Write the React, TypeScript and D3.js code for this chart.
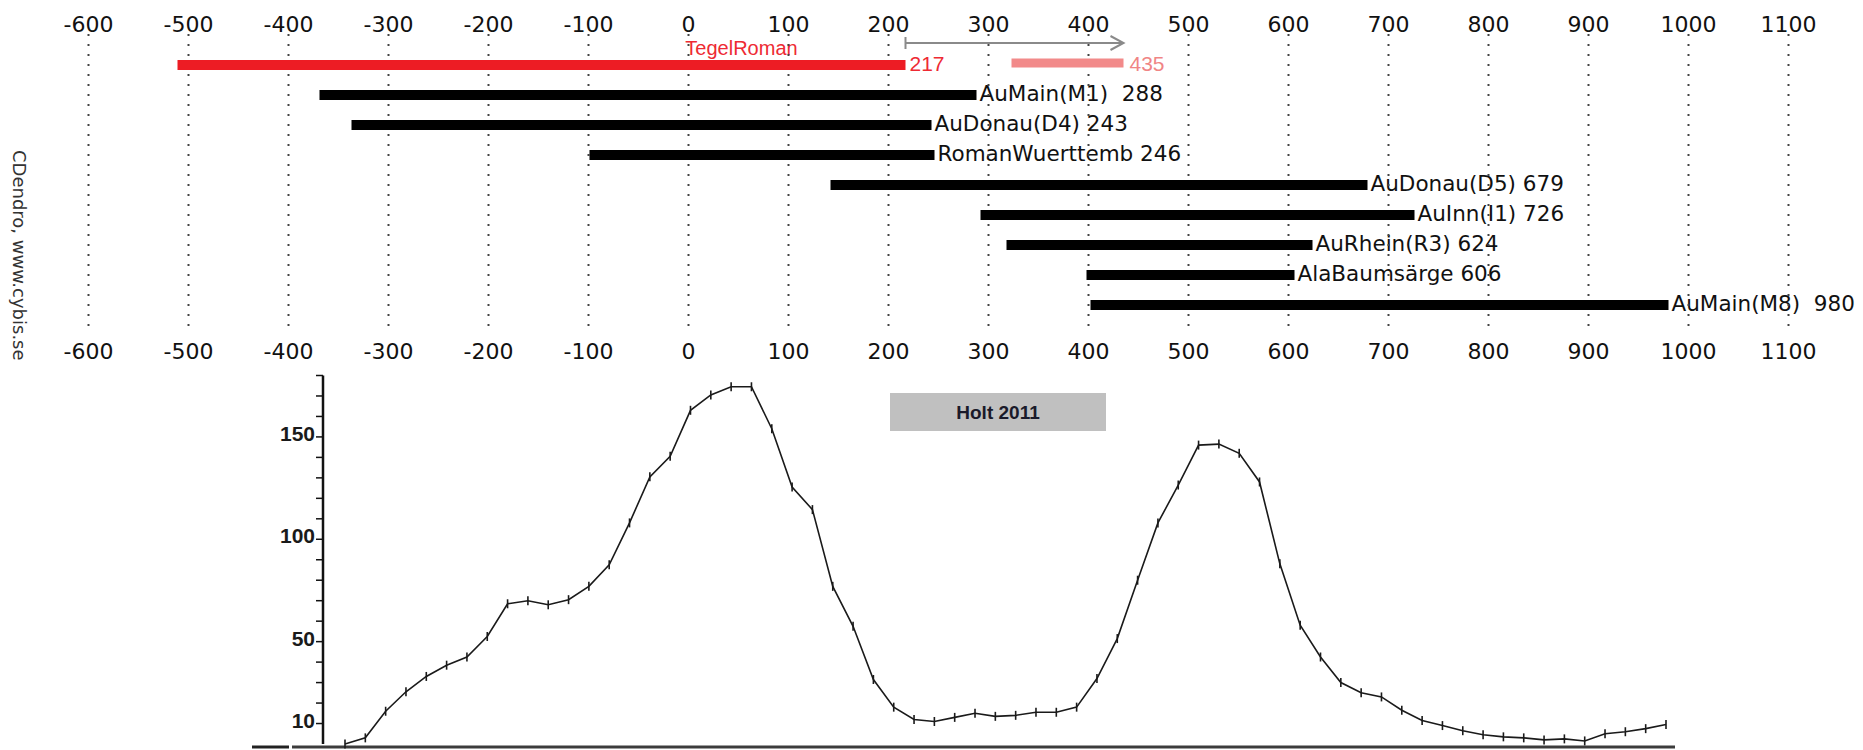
import React, { useEffect, useRef } from "react";
import * as d3 from "d3";

// years on the top / bottom axis
const yearTicks = [-600, -500, -400, -300, -200, -100, 0, 100, 200, 300, 400, 500, 600, 700, 800, 900, 1000, 1100];

// the reference chronology (red) and its extension (pink)
const tegelName = "TegelRoman";
const tegelStart = -511;
const tegelEnd = 217;
const tegelExtStart = 323;
const tegelExtEnd = 435;

// matched chronologies (black bars)
const seriesNames = ["AuMain(M1) ", "AuDonau(D4)", "RomanWuerttemb", "AuDonau(D5)", "AuInn(I1)", "AuRhein(R3)", "AlaBaumsärge", "AuMain(M8) "];
const seriesStart = [-369, -337, -99, 142, 292, 318, 398, 402];
const seriesEnd = [288, 243, 246, 679, 726, 624, 606, 980];

// pasted Holt 2011 frequency curve, one value per mark
const holtValues = [
  0, 3, 16, 25.5, 33, 38.5, 42.5, 52.5, 68.5, 70, 68, 70.5, 77, 87.5, 108, 130.5, 140.5, 163, 170.5, 174.5,
  174.5, 154, 125.5, 114.5, 77, 57.5, 31.5, 18, 12, 11, 13, 15, 13.5, 14, 15.5, 15.5, 18, 32, 51.5, 80,
  108, 126.5, 146, 146.5, 142, 128, 88, 58, 42.5, 30, 25, 23, 16.5, 11.5, 9, 6.5, 4.5, 3.5, 3, 2,
  2.5, 1.5, 5, 6, 7.5, 9.5
];
const holtTicks = [10, 20, 30, 40, 50, 60, 70, 80, 90, 100, 110, 120, 130, 140, 150, 160, 170, 180];
const holtLabels = [10, 50, 100, 150];
const holtTitle = "Holt 2011";
const creditText = "CDendro, www.cybis.se";

export default function App() {
  const ref = useRef<SVGSVGElement>(null);

  useEffect(() => {
    const svg = d3.select(ref.current);
    svg.selectAll("*").remove();

    const x = d3.scaleLinear().domain([-600, 1100]).range([88.5, 1788.5]);
    const row = d3.scaleLinear().domain([0, 8]).range([65, 305]);
    const barH = 10;

    // year labels, top and bottom
    [32, 359].forEach(yy => {
      svg.append("g")
        .selectAll("text")
        .data(yearTicks)
        .join("text")
        .attr("x", d => x(d))
        .attr("y", yy)
        .attr("text-anchor", "middle")
        .attr("font-family", "DejaVu Sans")
        .attr("font-size", 22)
        .attr("fill", "#111")
        .text(d => String(d));
    });

    // credit, rotated
    svg.append("text")
      .attr("transform", "translate(13,150) rotate(90)")
      .attr("font-family", "DejaVu Sans")
      .attr("font-size", 18)
      .attr("fill", "#333")
      .text(creditText);

    // labels of the black bars
    svg.append("g")
      .selectAll("text")
      .data(seriesNames)
      .join("text")
      .attr("x", (d, i) => x(seriesEnd[i]) + 3)
      .attr("y", (d, i) => row(i + 1) + 6)
      .attr("font-family", "DejaVu Sans")
      .attr("font-size", 21.5)
      .attr("fill", "#111")
      .style("white-space", "pre")
      .text((d, i) => `${d} ${seriesEnd[i]}`);

    // TegelRoman labels
    svg.append("text")
      .attr("x", x((tegelStart + tegelEnd) / 2 + 200))
      .attr("y", 55)
      .attr("text-anchor", "middle")
      .attr("font-family", "Liberation Sans")
      .attr("font-size", 20)
      .attr("fill", "#ee2a33")
      .text(tegelName);
    svg.append("text")
      .attr("x", x(tegelEnd) + 4)
      .attr("y", row(0) + 6)
      .attr("font-family", "Liberation Sans")
      .attr("font-size", 21)
      .attr("fill", "#ee2a33")
      .text(tegelEnd);
    svg.append("text")
      .attr("x", x(tegelExtEnd) + 6)
      .attr("y", row(0) + 6)
      .attr("font-family", "Liberation Sans")
      .attr("font-size", 21)
      .attr("fill", "#f08585")
      .text(tegelExtEnd);

    // dotted year grid
    svg.append("g")
      .selectAll("line")
      .data(yearTicks)
      .join("line")
      .attr("x1", d => x(d))
      .attr("x2", d => x(d))
      .attr("y1", 34)
      .attr("y2", 327)
      .attr("stroke", "#444")
      .attr("stroke-width", 2)
      .attr("stroke-dasharray", "2,8");

    // bars
    svg.append("rect")
      .attr("x", x(tegelStart))
      .attr("y", row(0) - barH / 2)
      .attr("width", x(tegelEnd) - x(tegelStart))
      .attr("height", barH)
      .attr("fill", "#ed1c24");
    svg.append("rect")
      .attr("x", x(tegelExtStart))
      .attr("y", row(0) - barH / 2 - 1.5)
      .attr("width", x(tegelExtEnd) - x(tegelExtStart))
      .attr("height", barH - 1)
      .attr("fill", "#f28a8a");
    svg.append("g")
      .selectAll("rect")
      .data(seriesNames)
      .join("rect")
      .attr("x", (d, i) => x(seriesStart[i]))
      .attr("y", (d, i) => row(i + 1) - barH / 2)
      .attr("width", (d, i) => x(seriesEnd[i]) - x(seriesStart[i]))
      .attr("height", barH)
      .attr("fill", "#000");

    // extension arrow
    const ay = 43;
    const arrow = svg.append("g").attr("stroke", "#8a8a8a").attr("stroke-width", 2).attr("fill", "none");
    arrow.append("line").attr("x1", x(tegelEnd)).attr("x2", x(tegelExtEnd)).attr("y1", ay).attr("y2", ay);
    arrow.append("line").attr("x1", x(tegelEnd)).attr("x2", x(tegelEnd)).attr("y1", ay - 6).attr("y2", ay + 6);
    arrow.append("polyline")
      .attr("points", `${x(tegelExtEnd) - 13},${ay - 7} ${x(tegelExtEnd)},${ay} ${x(tegelExtEnd) - 13},${ay + 7}`);

    // ---- Holt 2011 panel ----
    const hx = d3.scaleLinear().domain([0, holtValues.length - 1]).range([345, 1666]);
    const hy = d3.scaleLinear().domain([0, 180]).range([744, 375.5]);

    svg.append("line")
      .attr("x1", 292).attr("x2", 1675).attr("y1", 747).attr("y2", 747)
      .attr("stroke", "#3c3c3c").attr("stroke-width", 3);
    svg.append("line")
      .attr("x1", 252).attr("x2", 289).attr("y1", 747).attr("y2", 747)
      .attr("stroke", "#222").attr("stroke-width", 3);

    svg.append("line")
      .attr("x1", 323).attr("x2", 323).attr("y1", hy(0)).attr("y2", hy(180))
      .attr("stroke", "#111").attr("stroke-width", 2.5);
    svg.append("g")
      .selectAll("line")
      .data(holtTicks)
      .join("line")
      .attr("x1", 316).attr("x2", 323)
      .attr("y1", d => hy(d)).attr("y2", d => hy(d))
      .attr("stroke", "#111").attr("stroke-width", 1.5);
    svg.append("g")
      .selectAll("text")
      .data(holtLabels)
      .join("text")
      .attr("x", 315)
      .attr("y", d => hy(d) + 4)
      .attr("text-anchor", "end")
      .attr("font-family", "Liberation Sans")
      .attr("font-weight", "bold")
      .attr("font-size", 21)
      .attr("fill", "#1a1a1a")
      .text(d => d);

    const line = d3.line<number>().x((d, i) => hx(i)).y(d => hy(d));
    svg.append("path")
      .datum(holtValues)
      .attr("d", line)
      .attr("fill", "none")
      .attr("stroke", "#1a1a1a")
      .attr("stroke-width", 1.6);
    svg.append("g")
      .selectAll("line")
      .data(holtValues)
      .join("line")
      .attr("x1", (d, i) => hx(i)).attr("x2", (d, i) => hx(i))
      .attr("y1", d => hy(d) - 4.5).attr("y2", d => hy(d) + 4.5)
      .attr("stroke", "#1a1a1a").attr("stroke-width", 1.6);

    svg.append("rect")
      .attr("x", 890).attr("y", 393).attr("width", 216).attr("height", 38)
      .attr("fill", "#c0c0c0");
    svg.append("text")
      .attr("x", 998).attr("y", 419)
      .attr("text-anchor", "middle")
      .attr("font-family", "Liberation Sans")
      .attr("font-weight", "bold")
      .attr("font-size", 19)
      .attr("fill", "#1a1a2a")
      .text(holtTitle);
  }, []);

  return (
    <svg
      ref={ref}
      width={1863}
      height={750}
      style={{ position: "absolute", left: 0, top: 0, background: "#fff" }}
    />
  );
}
